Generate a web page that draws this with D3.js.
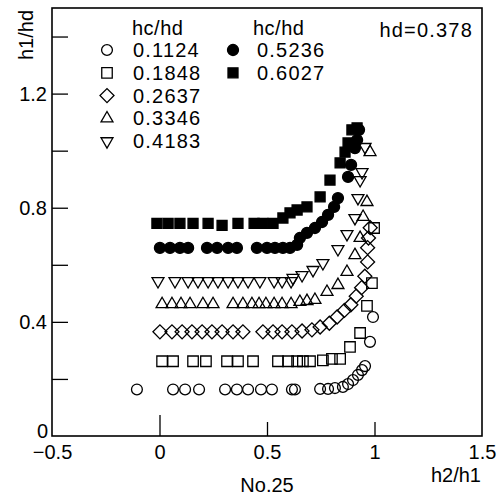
<!DOCTYPE html>
<html><head><meta charset="utf-8">
<script src="https://cdn.jsdelivr.net/npm/d3@7"></script>
<style>
html,body{margin:0;padding:0;background:#fff;}
text{font-family:"Liberation Sans",Arial,sans-serif;fill:#000;}
</style></head>
<body><svg id="chart" width="499" height="499"></svg>
<script>
// ---- data ----
const seriesLabels = ["0.1124","0.1848","0.2637","0.3346","0.4183","0.5236","0.6027"];
const s1x = [-0.105,0.063,0.119,0.184,0.305,0.360,0.412,0.472,0.523,0.616,0.630,0.747,0.784,0.816,0.853,0.877,0.900,0.923,0.942,0.956,0.979,0.993];
const s1y = [0.163,0.163,0.163,0.163,0.163,0.163,0.163,0.163,0.163,0.163,0.163,0.165,0.165,0.168,0.172,0.182,0.196,0.214,0.231,0.245,0.330,0.417];
const s2x = [0.012,0.063,0.156,0.216,0.314,0.365,0.435,0.551,0.598,0.640,0.667,0.700,0.760,0.802,0.840,0.886,0.933,0.965,0.988,0.998];
const s2y = [0.262,0.262,0.262,0.262,0.262,0.262,0.262,0.262,0.262,0.262,0.262,0.262,0.265,0.270,0.270,0.312,0.361,0.456,0.536,0.729];
const s3x = [0.002,0.058,0.105,0.151,0.198,0.244,0.291,0.342,0.388,0.481,0.528,0.570,0.616,0.663,0.709,0.747,0.790,0.826,0.860,0.890,0.915,0.940,0.955,0.968,0.968,0.972,0.980];
const s3y = [0.365,0.365,0.365,0.365,0.365,0.365,0.365,0.365,0.365,0.365,0.365,0.365,0.365,0.368,0.372,0.382,0.395,0.417,0.440,0.460,0.490,0.520,0.560,0.610,0.660,0.694,0.730];
const s4x = [0.012,0.058,0.100,0.142,0.202,0.249,0.342,0.388,0.430,0.463,0.495,0.533,0.570,0.612,0.653,0.686,0.723,0.779,0.830,0.872,0.909,0.933,0.947,0.965,0.979];
const s4y = [0.462,0.462,0.462,0.462,0.462,0.462,0.462,0.462,0.462,0.462,0.462,0.462,0.462,0.462,0.470,0.473,0.477,0.505,0.529,0.575,0.634,0.694,0.768,0.820,0.995];
const s5x = [-0.007,0.072,0.133,0.179,0.226,0.272,0.319,0.365,0.412,0.467,0.533,0.570,0.612,0.621,0.663,0.714,0.760,0.830,0.872,0.909,0.923,0.933,0.942,0.956];
const s5y = [0.543,0.543,0.543,0.543,0.543,0.543,0.543,0.543,0.543,0.543,0.543,0.543,0.543,0.554,0.564,0.582,0.606,0.655,0.708,0.764,0.834,0.897,0.925,1.013];
const s6x = [0.002,0.049,0.095,0.133,0.221,0.268,0.319,0.360,0.453,0.500,0.537,0.574,0.607,0.640,0.653,0.686,0.723,0.756,0.784,0.812,0.830,0.877,0.891,0.909,0.919,0.928];
const s6y = [0.659,0.659,0.659,0.659,0.659,0.659,0.659,0.659,0.659,0.659,0.659,0.659,0.659,0.670,0.694,0.712,0.729,0.750,0.775,0.803,0.834,0.908,0.950,1.009,1.037,1.073];
const s7x = [-0.012,0.040,0.095,0.156,0.226,0.291,0.365,0.440,0.481,0.528,0.574,0.607,0.640,0.686,0.747,0.793,0.840,0.863,0.877,0.895,0.919];
const s7y = [0.745,0.745,0.745,0.745,0.745,0.738,0.745,0.745,0.745,0.745,0.764,0.782,0.792,0.803,0.838,0.897,0.957,0.995,1.027,1.073,1.080];
const xTicks = [-0.5,0,0.5,1,1.5];
const yTicks = [0,0.2,0.4,0.6,0.8,1.0,1.2,1.4];
const yLabels = [0,0.4,0.8,1.2];

// ---- layout ----
const svg = d3.select("#chart");
const L=52,R=482,T=8,B=436;
const x = d3.scaleLinear().domain([-0.5,1.5]).range([L,R]);
const y = d3.scaleLinear().domain([0,1.5]).range([B,T]);

const seriesX=[s1x,s2x,s3x,s4x,s5x,s6x,s7x];
const seriesY=[s1y,s2y,s3y,s4y,s5y,s6y,s7y];
const styles=[
  {type:d3.symbolCircle,size:92,rot:0,fill:false},
  {type:d3.symbolSquare,size:110,rot:0,fill:false},
  {type:d3.symbolSquare,size:98,rot:45,fill:false},
  {type:d3.symbolTriangle,size:62,rot:0,fill:false},
  {type:d3.symbolTriangle,size:62,rot:180,fill:false},
  {type:d3.symbolCircle,size:95,rot:0,fill:true},
  {type:d3.symbolSquare,size:100,rot:0,fill:true}
];
function drawSym(g,st,cx,cy){
  g.append("path").attr("d",d3.symbol().type(st.type).size(st.size)())
   .attr("transform",`translate(${cx},${cy}) rotate(${st.rot})`)
   .attr("fill",st.fill?"#000":"#fff").attr("fill-opacity",st.fill?1:0)
   .attr("stroke","#000").attr("stroke-width",1.3);
}

// axes
const yAxis = d3.axisLeft(y).tickValues(yTicks).tickSize(-16).tickPadding(20)
  .tickFormat(d=>yLabels.includes(d)?(d===0?"0":d3.format(".1f")(d)):"");
const gy = svg.append("g").attr("transform",`translate(${L},0)`).call(yAxis);
gy.select(".domain").remove();
gy.selectAll(".tick line").attr("stroke","#000").attr("stroke-width",1.3).attr("x1",0).attr("x2",16)
  .filter(d=>d===0).remove();
gy.selectAll(".tick text").attr("font-size",20).attr("x",-5).attr("dy","0.35em").attr("text-anchor","end")
  .filter(d=>d===0).attr("dy","0.05em").attr("x",-4);

const xAxis = d3.axisBottom(x).tickValues(xTicks).tickSize(-14).tickPadding(0)
  .tickFormat(d=>d===0?"0":d3.format("")(d));
const gx = svg.append("g").attr("transform",`translate(0,${B})`).call(xAxis);
gx.select(".domain").remove();
gx.selectAll(".tick line").attr("stroke","#000").attr("stroke-width",1.3)
  .attr("y2",d=>d===0?-21:-14).filter(d=>d===-0.5||d===1.5).remove();
gx.selectAll(".tick text").attr("font-size",20).attr("y",23).attr("dy",0)
  .text(d=>d===-0.5?"\u22120.5":(d===0?"0":String(d)));

// frame
svg.append("rect").attr("x",L).attr("y",T).attr("width",R-L).attr("height",B-T)
  .attr("fill","none").attr("stroke","#000").attr("stroke-width",1.6);

// data
const gd = svg.append("g");
seriesX.forEach((xs,i)=>{
  xs.forEach((v,j)=>drawSym(gd,styles[i],x(v),y(seriesY[i][j])));
});

// legend
const lg = svg.append("g").attr("font-size",20).attr("letter-spacing",1.2);
lg.append("text").attr("x",132).attr("y",35).text("hc/hd").attr("letter-spacing",0.5);
lg.append("text").attr("x",253).attr("y",35).text("hc/hd").attr("letter-spacing",0.5);
for(let i=0;i<5;i++){
  const by=57+i*22.8;
  drawSym(lg,styles[i],107,by-7);
  lg.append("text").attr("x",133).attr("y",by).text(seriesLabels[i]);
}
for(let i=5;i<7;i++){
  const by=57+(i-5)*22.8;
  drawSym(lg,styles[i],233,by-7);
  lg.append("text").attr("x",257).attr("y",by).text(seriesLabels[i]);
}
lg.append("text").attr("x",473).attr("y",37).attr("text-anchor","end").text("hd=0.378");

// axis titles
svg.append("text").attr("font-size",20).attr("transform","translate(33,35) rotate(-90)")
  .attr("text-anchor","middle").text("h1/hd");
svg.append("text").attr("font-size",20).attr("x",481).attr("y",482).attr("text-anchor","end").text("h2/h1");
svg.append("text").attr("font-size",20).attr("x",267).attr("y",492).attr("text-anchor","middle").text("No.25");
</script></body></html>
